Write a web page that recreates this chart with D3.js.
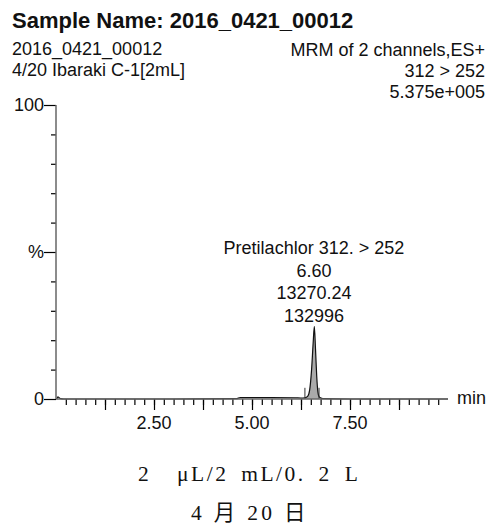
<!DOCTYPE html>
<html>
<head>
<meta charset="utf-8">
<script src="https://cdn.jsdelivr.net/npm/d3@7"></script>
</head>
<body style="margin:0">
<script>
// Chromatogram trace (time in min, intensity in % of full scale)
const times = [0.02, 0.05, 0.08, 0.12, 0.2, 1.0, 2.0, 3.0, 4.6, 4.7, 5.5, 6.1, 6.25, 6.35, 6.42, 6.47, 6.52, 6.56, 6.59, 6.62, 6.65, 6.68, 6.71, 6.76, 6.85, 7.5, 9.0, 10.0];
const intensity = [0.0, 0.7, 0.4, 0.1, 0.0, 0.0, 0.0, 0.0, 0.1, 0.5, 0.5, 0.4, 0.3, 0.4, 0.9, 3.0, 10.0, 19.0, 24.7, 17.0, 8.0, 2.5, 0.8, 0.3, 0.1, 0.0, 0.0, 0.0];

// Integration window of the peak
const peakStart = 6.35;
const peakEnd = 6.71;
const markerHeight = 3.8;

// Header texts
const title = 'Sample Name: 2016_0421_00012';
const leftHeader = ['2016_0421_00012', '4/20 Ibaraki C-1[2mL]'];
const rightHeader = ['MRM of 2 channels,ES+', '312 > 252', '5.375e+005'];
const peakLabel = ['Pretilachlor 312. > 252', '6.60', '13270.24', '132996'];
const peakLabelTime = 6.58;
const footer = ['2  \u03bcL/2 mL/0. 2 L', '4 \u6708 20 \u65e5'];

// Axis ticks
const xMinorTicks = d3.range(1, 40).map(i => i * 0.25);
const xMajorTicks = [1.25, 2.5, 3.75, 5.0, 6.25, 7.5, 8.75];
const xLabels = [2.5, 5.0, 7.5];
const yMinorTicks = [10, 20, 30, 40, 60, 70, 80, 90];
const yMajorTicks = [0, 50, 100];
const yLabels = ['0', '%', '100'];

const w = 492;
const h = 532;
const sans = '"Liberation Sans", Arial, sans-serif';

const x = d3.scaleLinear().domain([0, 10]).range([56, 448]);
const y = d3.scaleLinear().domain([0, 100]).range([399, 105]);
const baseY = y(0);
const baseX = x(0);

const svg = d3.select('body').append('svg')
  .attr('width', w)
  .attr('height', h)
  .attr('font-family', sans)
  .attr('fill', '#111');

// Title and headers
svg.append('text')
  .attr('x', 12).attr('y', 28)
  .attr('font-size', 22).attr('font-weight', 'bold')
  .text(title);

svg.selectAll('.lh').data(leftHeader).enter().append('text')
  .attr('class', 'lh')
  .attr('x', 12)
  .attr('y', (d, i) => 55 + i * 20.5)
  .attr('font-size', 18)
  .text(d => d);

svg.selectAll('.rh').data(rightHeader).enter().append('text')
  .attr('class', 'rh')
  .attr('x', 485)
  .attr('y', (d, i) => 56 + i * 21)
  .attr('text-anchor', 'end')
  .attr('font-size', 18)
  .text(d => d);

// Trace
const pts = times.map((t, i) => ({ t, v: intensity[i] }));

const area = d3.area()
  .x(d => x(d.t))
  .y0(baseY)
  .y1(d => y(d.v))
  .curve(d3.curveMonotoneX);

const inPeak = pts.filter(d => d.t >= peakStart && d.t <= peakEnd);
svg.append('path')
  .datum(inPeak)
  .attr('d', area)
  .attr('fill', '#aaa');

const line = d3.line()
  .x(d => x(d.t))
  .y(d => y(d.v))
  .curve(d3.curveMonotoneX);

svg.append('path')
  .datum(pts)
  .attr('d', line)
  .attr('fill', 'none')
  .attr('stroke', '#111')
  .attr('stroke-width', 1.2);

// Integration markers
svg.selectAll('.mk').data([peakStart, peakEnd]).enter().append('line')
  .attr('class', 'mk')
  .attr('x1', d => x(d)).attr('x2', d => x(d))
  .attr('y1', baseY).attr('y2', y(markerHeight))
  .attr('stroke', '#333');

// Axes
const axisColor = '#666';
const tickColor = '#000';

const xAxis = svg.append('g').attr('transform', `translate(0,${baseY})`);
xAxis.call(d3.axisBottom(x).tickValues(xMinorTicks).tickSizeOuter(0)
  .tickSizeInner(6).tickFormat(() => ''));
xAxis.append('g').call(d3.axisBottom(x).tickValues(xMajorTicks).tickSizeOuter(0)
  .tickSizeInner(11).tickFormat(() => ''));
xAxis.selectAll('.domain').remove();
xAxis.selectAll('.tick line').attr('stroke', tickColor).attr('stroke-width', 1.2);

svg.append('line')
  .attr('x1', baseX).attr('x2', x(10))
  .attr('y1', baseY).attr('y2', baseY)
  .attr('stroke', axisColor).attr('stroke-width', 1.5);

svg.selectAll('.xl').data(xLabels).enter().append('text')
  .attr('class', 'xl')
  .attr('x', d => x(d))
  .attr('y', 429)
  .attr('text-anchor', 'middle')
  .attr('font-size', 18)
  .text(d => d.toFixed(2));

svg.append('text')
  .attr('x', 457).attr('y', 404)
  .attr('font-size', 18)
  .text('min');

const yAxis = svg.append('g').attr('transform', `translate(${baseX},0)`);
yAxis.call(d3.axisLeft(y).tickValues(yMinorTicks).tickSizeOuter(0)
  .tickSizeInner(5).tickFormat(() => ''));
yAxis.append('g').call(d3.axisLeft(y).tickValues(yMajorTicks).tickSizeOuter(0)
  .tickSizeInner(12).tickFormat(() => ''));
yAxis.selectAll('.domain').remove();
yAxis.selectAll('.tick line').attr('stroke', tickColor).attr('stroke-width', 1.2);

svg.append('line')
  .attr('x1', baseX).attr('x2', baseX)
  .attr('y1', baseY).attr('y2', y(100))
  .attr('stroke', axisColor).attr('stroke-width', 1.5);

svg.selectAll('.yl').data(yMajorTicks).enter().append('text')
  .attr('class', 'yl')
  .attr('x', 44)
  .attr('y', d => y(d) + 6)
  .attr('text-anchor', 'end')
  .attr('font-size', 18)
  .text((d, i) => yLabels[i]);

// Peak label
svg.selectAll('.pl').data(peakLabel).enter().append('text')
  .attr('class', 'pl')
  .attr('x', x(peakLabelTime))
  .attr('y', (d, i) => 254 + i * 22.5)
  .attr('text-anchor', 'middle')
  .attr('font-size', 18)
  .text(d => d);

// Footer (serif, Mincho-like spacing)
svg.selectAll('.ft').data(footer).enter().append('text')
  .attr('class', 'ft')
  .attr('x', (d, i) => i === 0 ? 138 : 191)
  .attr('y', (d, i) => 481 + i * 39)
  .attr('font-family', '"Liberation Serif", "Noto Sans CJK JP", serif')
  .attr('font-size', 21.5)
  .attr('letter-spacing', (d, i) => i === 0 ? 2.5 : 3.3)
  .attr('word-spacing', (d, i) => i === 0 ? 5 : 0)
  .style('white-space', 'pre')
  .text(d => d);
</script>
</body>
</html>
